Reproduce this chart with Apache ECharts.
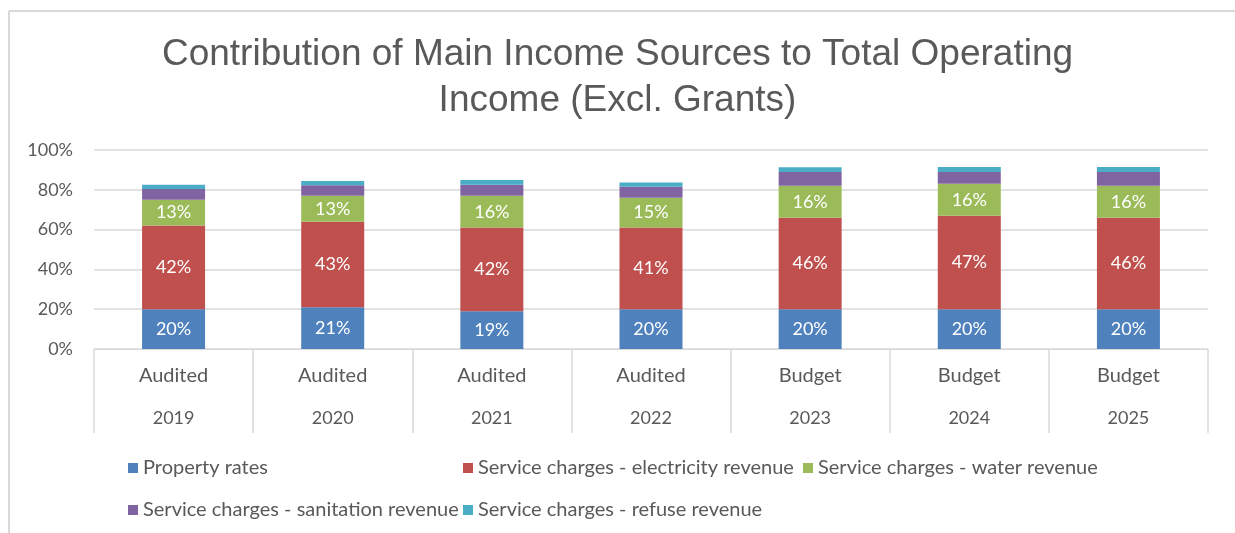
<!DOCTYPE html>
<html>
<head>
<meta charset="utf-8">
<script src="https://cdn.jsdelivr.net/npm/echarts@6/dist/echarts.min.js"></script>
<style>
  html, body { margin: 0; padding: 0; background: #fff; }
  #chart { width: 1235px; height: 533px; }
</style>
</head>
<body>
<div id="chart"></div>
<script>
// Share of total operating income (excl. grants), in percent
const stages = ['Audited', 'Audited', 'Audited', 'Audited', 'Budget', 'Budget', 'Budget'];
const years = ['2019', '2020', '2021', '2022', '2023', '2024', '2025'];
const propertyRates = [20, 21, 19, 20, 20, 20, 20];
const electricity = [42, 43, 42, 41, 46, 47, 46];
const water = [13, 13, 16, 15, 16, 16, 16];
const sanitation = [5.4, 5.3, 5.6, 5.5, 6.9, 6.0, 6.9];
const refuse = [2.1, 2.1, 2.3, 2.2, 2.4, 2.4, 2.5];
const yTicks = [0, 20, 40, 60, 80, 100];

const seriesNames = [
  'Property rates',
  'Service charges - electricity revenue',
  'Service charges - water revenue',
  'Service charges - sanitation revenue',
  'Service charges - refuse revenue'
];
const seriesData = [propertyRates, electricity, water, sanitation, refuse];
const colors = ['#4f81bd', '#c0504d', '#9bbb59', '#8064a2', '#4bacc6'];
const labelled = [true, true, true, false, false];

const FONT = 'Lato';
const TEXT = '#595959';
const LINE = '#d9d9d9';

const categories = stages.map((s, i) => s + '|' + years[i]);

const series = seriesNames.map((name, i) => ({
  name: name,
  type: 'bar',
  stack: 'total',
  barWidth: 63,
  data: seriesData[i],
  itemStyle: { color: colors[i] },
  label: {
    show: labelled[i],
    position: 'inside',
    color: '#ffffff',
    fontFamily: FONT,
    fontSize: 18,
    formatter: p => Math.round(p.value) + '%'
  },
  emphasis: { disabled: true }
}));

// legend entries placed in two rows
const legendPos = [
  { left: 123, top: 453 },
  { left: 458, top: 453 },
  { left: 798, top: 453 },
  { left: 123, top: 495 },
  { left: 458, top: 495 }
];
const legends = seriesNames.map((name, i) => ({
  data: [name],
  left: legendPos[i].left,
  top: legendPos[i].top,
  icon: 'rect',
  itemWidth: 10,
  itemHeight: 10,
  selectedMode: false,
  textStyle: { color: TEXT, fontFamily: FONT, fontSize: 20 }
}));

const chart = echarts.init(document.getElementById('chart'), null, { renderer: 'canvas' });
chart.setOption({
  animation: false,
  backgroundColor: '#ffffff',
  color: colors,
  title: {
    text: 'Contribution of Main Income Sources to Total Operating\nIncome (Excl. Grants)',
    left: 'center',
    top: 27,
    textStyle: {
      color: TEXT,
      fontFamily: 'Liberation Sans',
      fontWeight: 'normal',
      fontSize: 37,
      lineHeight: 46
    }
  },
  legend: legends,
  grid: { left: 94, right: 27, top: 150, bottom: 184, containLabel: false },
  xAxis: {
    type: 'category',
    data: categories,
    axisLine: { show: true, lineStyle: { color: LINE, width: 1 } },
    axisTick: { show: true, interval: 0, length: 84, lineStyle: { color: LINE, width: 1.5 } },
    axisLabel: {
      interval: 0,
      margin: 6,
      formatter: v => {
        const parts = v.split('|');
        return '{s|' + parts[0] + '}\n{y|' + parts[1] + '}';
      },
      rich: {
        s: { color: TEXT, fontFamily: FONT, fontSize: 20, lineHeight: 42 },
        y: { color: TEXT, fontFamily: FONT, fontSize: 18, lineHeight: 42 }
      }
    }
  },
  yAxis: {
    type: 'value',
    min: yTicks[0],
    max: yTicks[yTicks.length - 1],
    interval: 20,
    axisLine: { show: false },
    axisTick: { show: false },
    splitLine: { lineStyle: { color: LINE, width: 1.5 } },
    axisLabel: {
      color: TEXT,
      fontFamily: FONT,
      fontSize: 18,
      margin: 21,
      formatter: '{value}%'
    }
  },
  graphic: [
    { type: 'line', shape: { x1: 9, y1: 11, x2: 9, y2: 533 }, style: { stroke: LINE, lineWidth: 2 } },
    { type: 'line', shape: { x1: 9, y1: 11, x2: 1235, y2: 11 }, style: { stroke: LINE, lineWidth: 2 } }
  ],
  series: series
});
</script>
</body>
</html>
